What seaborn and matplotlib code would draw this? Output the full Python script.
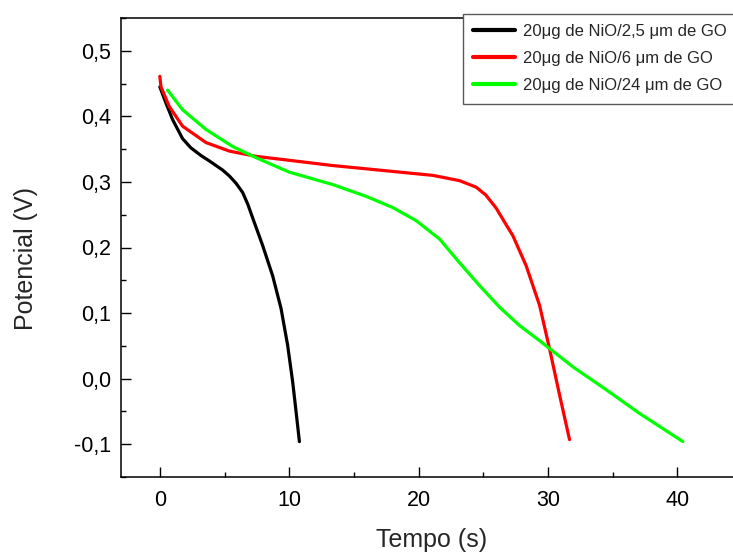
import numpy as np
import pandas as pd
import matplotlib
matplotlib.use('Agg')
import matplotlib.pyplot as plt
import seaborn as sns
from matplotlib.ticker import MultipleLocator

# 数据
t_25 = [0.0, 0.48, 0.99, 1.76, 2.40, 3.20, 3.83, 4.86, 5.38, 5.89, 6.40, 6.80, 7.18,
        7.95, 8.72, 9.37, 9.88, 10.27, 10.53, 10.79]
v_25 = [0.445, 0.420, 0.395, 0.366, 0.352, 0.340, 0.332, 0.318, 0.309, 0.298, 0.284, 0.266,
        0.245, 0.203, 0.157, 0.107, 0.051, -0.005, -0.050, -0.096]

t_6 = [0.0, 0.09, 0.73, 1.76, 3.57, 5.38, 7.44, 10.0, 13.36, 15.95, 18.52, 21.1,
       23.16, 24.45, 25.2, 26.0, 26.7, 27.29, 28.32, 29.35, 30.12, 30.9, 31.67]
v_6 = [0.461, 0.445, 0.415, 0.385, 0.360, 0.347, 0.339, 0.333, 0.325, 0.320, 0.315,
       0.310, 0.302, 0.292, 0.280, 0.260, 0.237, 0.218, 0.172, 0.112, 0.046, -0.025, -0.093]

t_24 = [0.6, 1.76, 3.57, 5.63, 7.44, 10.0, 13.36, 15.95, 18.0, 19.81, 21.62, 23.16,
        24.71, 26.26, 27.8, 29.35, 30.12, 31.93, 34.51, 37.08, 40.43]
v_24 = [0.440, 0.410, 0.380, 0.354, 0.337, 0.315, 0.296, 0.278, 0.261, 0.241, 0.213,
        0.177, 0.142, 0.109, 0.081, 0.058, 0.046, 0.018, -0.017, -0.053, -0.096]

labels = ['20μg de NiO/2,5 μm de GO', '20μg de NiO/6 μm de GO', '20μg de NiO/24 μm de GO']
colors = ['#000000', '#ff0000', '#00ff00']

df = pd.concat([
    pd.DataFrame({'Tempo': t_25, 'Potencial': v_25, 'serie': labels[0]}),
    pd.DataFrame({'Tempo': t_6, 'Potencial': v_6, 'serie': labels[1]}),
    pd.DataFrame({'Tempo': t_24, 'Potencial': v_24, 'serie': labels[2]}),
])

sns.set_style('ticks')
plt.rcParams['font.family'] = ['Liberation Sans', 'DejaVu Sans']

fig = plt.figure(figsize=(7.33, 5.54), dpi=100)
ax = fig.add_axes([121/733, 1-477/554, 621/733, 459/554])

sns.lineplot(data=df, x='Tempo', y='Potencial', hue='serie', palette=colors,
             sort=False, estimator=None, linewidth=2.3, ax=ax)

ax.set_xlim(-3, 45)
ax.xaxis.set_major_locator(MultipleLocator(10))
ax.xaxis.set_minor_locator(MultipleLocator(5))
ax.yaxis.set_minor_locator(MultipleLocator(0.05))
ax.set_yticks([-0.1, 0.0, 0.1, 0.2, 0.3, 0.4, 0.5])
ax.set_yticklabels(['-0,1', '0,0', '0,1', '0,2', '0,3', '0,4', '0,5'])
ax.set_ylim(-0.15, 0.55)
ax.tick_params(which='both', direction='in', width=1, colors='black', labelsize=15.5)
ax.tick_params(which='major', length=7.2)
ax.tick_params(which='minor', length=3.6)
ax.tick_params(axis='x', pad=9)
ax.tick_params(axis='y', pad=7)
for s in ax.spines.values():
    s.set_linewidth(1.1)
    s.set_color('black')

ax.set_xlabel('Tempo (s)', fontsize=18)
ax.set_ylabel('Potencial (V)', fontsize=18)
ax.xaxis.set_label_coords(0.5, -0.111)
ax.yaxis.set_label_coords(-0.134, 0.475)

leg = ax.legend(loc='upper left', bbox_to_anchor=(463/733, 1-14/554),
                bbox_transform=fig.transFigure, borderaxespad=0, fontsize=12,
                handlelength=2.5, handletextpad=0.5, labelspacing=0.72,
                borderpad=0.62, fancybox=False, framealpha=1)
leg.get_frame().set_edgecolor('0.35')
leg.get_frame().set_linewidth(1.0)
for line in leg.get_lines():
    line.set_linewidth(3)

fig.savefig('out.png', dpi=100)
